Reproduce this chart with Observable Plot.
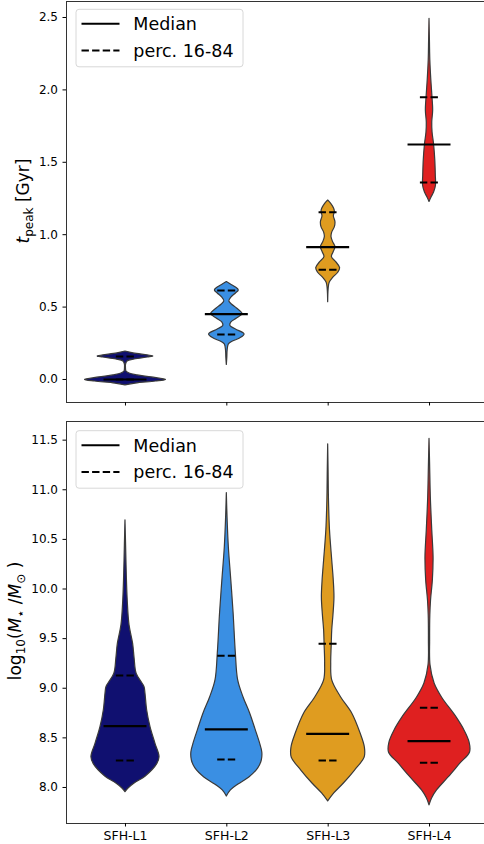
<!DOCTYPE html>
<html><head><meta charset="utf-8">
<script src="https://cdn.jsdelivr.net/npm/d3@7"></script>
<script src="https://cdn.jsdelivr.net/npm/@observablehq/plot@0.6"></script>
<style>
html,body{margin:0;padding:0;background:#fff;overflow:hidden;width:484px;height:844px;}
#chart{position:relative;width:488px;}
#chart svg{display:block;}
</style></head><body><div id="chart"></div>
<script>
// ---------- data ----------
const categories = ["SFH-L1", "SFH-L2", "SFH-L3", "SFH-L4"];
const colors = ["#101070", "#3a8fe3", "#df9c20", "#df2020"];

// top panel: t_peak [Gyr] — violin profiles [value, half-width (category units)]
const tpeakL1 = [[0.193,0],[0.180,0.08],[0.166,0.22],[0.159,0.276],[0.152,0.22],[0.138,0.09],[0.124,0.02],[0.104,0.006],[0.076,0.005],[0.055,0.01],[0.041,0.04],[0.028,0.12],[0.014,0.26],[-0.003,0.40],[-0.014,0.30],[-0.028,0.10],[-0.041,0]];
const tpeakL2 = [[0.673,0],[0.656,0.04],[0.635,0.09],[0.615,0.118],[0.594,0.09],[0.566,0.045],[0.539,0.025],[0.518,0.05],[0.490,0.10],[0.452,0.155],[0.421,0.10],[0.394,0.045],[0.369,0.035],[0.345,0.09],[0.311,0.175],[0.283,0.13],[0.262,0.06],[0.242,0.02],[0.200,0.008],[0.152,0.005],[0.100,0]];
const tpeakL3 = [[1.236,0],[1.213,0.030],[1.179,0.059],[1.155,0.066],[1.128,0.056],[1.086,0.072],[1.052,0.066],[1.013,0.039],[0.983,0.033],[0.948,0.049],[0.914,0.072],[0.879,0.054],[0.845,0.037],[0.810,0.079],[0.769,0.118],[0.737,0.099],[0.702,0.049],[0.668,0.015],[0.626,0.005],[0.534,0]];
const tpeakL4 = [[2.491,0],[2.341,0.004],[2.203,0.008],[2.065,0.018],[1.961,0.028],[1.858,0.036],[1.775,0.027],[1.706,0.030],[1.623,0.045],[1.512,0.057],[1.409,0.062],[1.340,0.064],[1.291,0.045],[1.257,0.020],[1.226,0]];
const tpeakMedian = [0.0, 0.452, 0.914, 1.623];
const tpeakP16 = [0.0, 0.311, 0.757, 1.360];
const tpeakP84 = [0.159, 0.615, 1.155, 1.950];
const tpeakTicks = [0.0, 0.5, 1.0, 1.5, 2.0, 2.5];

// bottom panel: log10(M*/Msun)
const massL1 = [[10.692,0],[10.44,0.006],[10.137,0.013],[9.885,0.022],[9.633,0.040],[9.449,0.075],[9.30,0.090],[9.146,0.11],[9.06,0.16],[9.011,0.188],[8.948,0.197],[8.776,0.214],[8.608,0.247],[8.44,0.296],[8.305,0.336],[8.23,0.31],[8.111,0.20],[8.04,0.09],[7.99,0.03],[7.953,0]];
const massL2 = [[10.967,0],[10.692,0.008],[10.419,0.020],[10.087,0.044],[9.754,0.067],[9.351,0.089],[9.079,0.112],[8.907,0.165],[8.746,0.230],[8.585,0.283],[8.454,0.325],[8.353,0.350],[8.272,0.345],[8.192,0.310],[8.101,0.222],[8.030,0.115],[7.970,0.040],[7.909,0]];
const massL3 = [[11.458,0],[11.196,0.004],[10.893,0.008],[10.591,0.018],[10.288,0.040],[10.087,0.055],[9.915,0.062],[9.734,0.052],[9.583,0.040],[9.431,0.035],[9.250,0.030],[9.079,0.040],[8.907,0.128],[8.746,0.237],[8.544,0.320],[8.403,0.362],[8.302,0.360],[8.171,0.265],[8.040,0.155],[7.940,0.060],[7.859,0]];
const massL4 = [[11.513,0],[11.246,0.006],[10.923,0.013],[10.591,0.027],[10.319,0.040],[10.087,0.033],[9.885,0.015],[9.734,0.008],[9.482,0.006],[9.230,0.010],[9.048,0.050],[8.907,0.123],[8.706,0.267],[8.575,0.345],[8.454,0.395],[8.353,0.400],[8.242,0.306],[8.101,0.188],[7.970,0.074],[7.889,0.025],[7.819,0]];
const massMedian = [8.618, 8.585, 8.541, 8.467];
const massP16 = [8.272, 8.282, 8.272, 8.249];
const massP84 = [9.129, 9.327, 9.449, 8.803];
const massTicks = [8.0, 8.5, 9.0, 9.5, 10.0, 10.5, 11.0, 11.5];

// ---------- drawing ----------
const MED_HALF = 0.212, PERC_HALF = 0.09;
const OUTLINE = "#3a3a3a";

function violinRows(profiles) {
  const rows = [];
  profiles.forEach((prof, i) => prof.forEach(([v, w]) => rows.push({cat: i, y: v, x1: i - w, x2: i + w})));
  return rows;
}
function lineRows(vals) { return vals.map((v, i) => ({i, v})); }

function panel(opts) {
  const {profiles, med, p16, p84, yDomain, yTicks, height, marginTop, marginBottom, showX} = opts;
  return Plot.plot({
    width: 488, height, marginLeft: 66, marginRight: 0, marginTop, marginBottom,
    style: {fontFamily: "DejaVu Sans", fontSize: "12px", color: "#000", background: "transparent"},
    x: {domain: [-0.582, 3.582], axis: null},
    y: {domain: yDomain, axis: null},
    color: {type: "ordinal", domain: [0, 1, 2, 3], range: colors},
    marks: [
      Plot.areaX(violinRows(profiles), {y: "y", x1: "x1", x2: "x2", z: "cat", fill: "cat", stroke: OUTLINE, strokeWidth: 1.2, curve: "catmull-rom"}),
      Plot.ruleY(lineRows(p16), {y: "v", x1: d => d.i - PERC_HALF, x2: d => d.i + PERC_HALF, stroke: "black", strokeWidth: 2, strokeDasharray: "7.4,3.2"}),
      Plot.ruleY(lineRows(p84), {y: "v", x1: d => d.i - PERC_HALF, x2: d => d.i + PERC_HALF, stroke: "black", strokeWidth: 2, strokeDasharray: "7.4,3.2"}),
      Plot.ruleY(lineRows(med), {y: "v", x1: d => d.i - MED_HALF, x2: d => d.i + MED_HALF, stroke: "black", strokeWidth: 2.2}),
      Plot.frame({stroke: "#333", strokeWidth: 1}),
      Plot.axisY({ticks: yTicks, tickFormat: d3.format(".1f"), tickSize: 3.5, tickPadding: 5, label: null, fontSize: 12}),
      Plot.axisX({ticks: [0, 1, 2, 3], tickFormat: showX ? (i => categories[i]) : (() => ""), tickSize: 3.5, tickPadding: 4, label: null, fontSize: 12.5})
    ]
  });
}

function addLegend(svg, boxY) {
  const g = d3.select(svg).append("g").attr("font-family", "DejaVu Sans").attr("text-anchor", "start");
  g.append("rect").attr("x", 76).attr("y", boxY).attr("width", 167).attr("height", 57.5)
    .attr("rx", 3).attr("fill", "white").attr("fill-opacity", 0.85).attr("stroke", "#d8d8d8").attr("stroke-width", 1);
  const rows = [{label: "Median", dash: null, dy: 14.5}, {label: "perc. 16-84", dash: "7.4,3.2", dy: 41.2}];
  rows.forEach(r => {
    const ly = boxY + r.dy;
    const ln = g.append("line").attr("x1", 81.5).attr("x2", 119.5).attr("y1", ly).attr("y2", ly)
      .attr("stroke", "black").attr("stroke-width", 2);
    if (r.dash) ln.attr("stroke-dasharray", r.dash);
    g.append("text").attr("x", 133.3).attr("y", ly + 6.5).attr("text-anchor", "start")
      .attr("font-size", 17.5).attr("fill", "black").text(r.label);
  });
}

const chart = document.getElementById("chart");

const topSvg = panel({
  profiles: [tpeakL1, tpeakL2, tpeakL3, tpeakL4], med: tpeakMedian, p16: tpeakP16, p84: tpeakP84,
  yDomain: [-0.159, 2.6105], yTicks: tpeakTicks, height: 412, marginTop: 1, marginBottom: 10, showX: false
});
addLegend(topSvg, 9.3);
{
  const t = d3.select(topSvg).append("text").attr("transform", "translate(29,201) rotate(-90)")
    .attr("text-anchor", "middle").attr("font-family", "DejaVu Sans").attr("font-size", 17).attr("fill", "black");
  t.append("tspan").attr("font-style", "italic").text("t");
  t.append("tspan").attr("font-size", 12).attr("dy", 4).text("peak");
  t.append("tspan").attr("dy", -4).text(" [Gyr]");
}
chart.appendChild(topSvg);

const bottomSvg = panel({
  profiles: [massL1, massL2, massL3, massL4], med: massMedian, p16: massP16, p84: massP84,
  yDomain: [7.637, 11.688], yTicks: massTicks, height: 432, marginTop: 9, marginBottom: 21, showX: true
});
addLegend(bottomSvg, 18.7);
{
  const t = d3.select(bottomSvg).append("text").attr("transform", "translate(21,209) rotate(-90)")
    .attr("text-anchor", "middle").attr("font-family", "DejaVu Sans").attr("font-size", 17).attr("fill", "black");
  t.append("tspan").text("log");
  t.append("tspan").attr("font-size", 12).attr("dy", 4).text("10");
  t.append("tspan").attr("dy", -4).text("(");
  t.append("tspan").attr("font-style", "italic").text("M");
  t.append("tspan").attr("font-size", 13).attr("dy", 4).text("\u22C6");
  t.append("tspan").attr("dy", -4).text(" /");
  t.append("tspan").attr("font-style", "italic").text("M");
  t.append("tspan").attr("font-size", 12).attr("dy", 4).text("\u2299");
  t.append("tspan").attr("dy", -4).text(" )");
}
chart.appendChild(bottomSvg);
</script></body></html>
